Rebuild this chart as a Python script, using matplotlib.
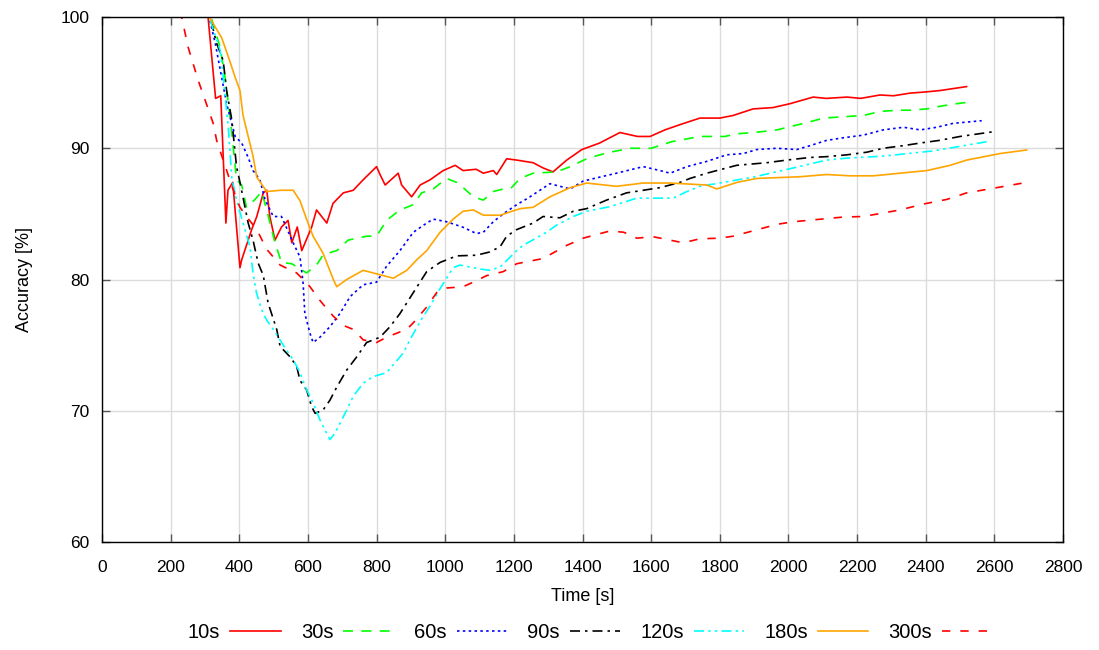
import matplotlib
matplotlib.use("Agg")
import matplotlib.pyplot as plt

# ---------------- data ----------------
labels = ["10s", "30s", "60s", "90s", "120s", "180s", "300s"]

t_10 = [0, 309, 331, 346, 361, 367, 381, 402, 407, 436, 451, 470, 480, 489, 504, 523, 542, 553, 569, 582,
        611, 625, 655, 673, 703, 732, 761, 800, 810, 825, 863, 873, 902, 927, 956, 994, 1029, 1052, 1090,
        1111, 1140, 1150, 1179, 1208, 1256, 1285, 1314, 1354, 1398, 1450, 1509, 1560, 1597, 1640, 1684,
        1742, 1800, 1839, 1897, 1955, 2005, 2072, 2110, 2171, 2210, 2267, 2306, 2354, 2403, 2442, 2519]
a_10 = [100, 100, 93.8, 94.0, 84.3, 86.8, 87.4, 80.9, 81.5, 83.8, 84.8, 86.6, 86.8, 84.8, 83.0, 84.0, 84.5,
        82.8, 84.0, 82.2, 84.0, 85.3, 84.3, 85.8, 86.6, 86.8, 87.6, 88.6, 88.0, 87.2, 88.1, 87.2, 86.3, 87.2,
        87.6, 88.3, 88.7, 88.3, 88.4, 88.1, 88.3, 88.0, 89.2, 89.1, 88.9, 88.5, 88.2, 89.1, 89.9, 90.4, 91.2,
        90.9, 90.9, 91.4, 91.8, 92.3, 92.3, 92.5, 93.0, 93.1, 93.4, 93.9, 93.8, 93.9, 93.8, 94.06, 94.0,
        94.2, 94.3, 94.4, 94.7]

t_30 = [0, 310, 320, 344, 358, 375, 392, 407, 421, 446, 465, 480, 504, 523, 553, 596, 625, 645, 684, 717,
        771, 800, 829, 868, 907, 931, 965, 1004, 1033, 1052, 1082, 1111, 1140, 1169, 1193, 1218, 1256, 1325,
        1364, 1412, 1451, 1480, 1540, 1600, 1660, 1742, 1815, 1849, 1900, 1966, 2053, 2102, 2160, 2218,
        2267, 2316, 2354, 2403, 2442, 2490, 2538]
a_30 = [100, 100, 99.8, 97.7, 95.5, 92.0, 87.6, 87.2, 85.5, 86.1, 86.7, 85.3, 82.8, 81.3, 81.2, 80.5, 81.1,
        81.9, 82.2, 83.0, 83.3, 83.3, 84.5, 85.3, 85.7, 86.6, 86.9, 87.7, 87.4, 87.0, 86.3, 86.05, 86.7,
        86.9, 87.0, 87.7, 88.1, 88.2, 88.6, 89.2, 89.5, 89.7, 90.0, 90.0, 90.5, 90.9, 90.9, 91.1, 91.2,
        91.4, 91.95, 92.3, 92.4, 92.5, 92.8, 92.9, 92.9, 93.0, 93.2, 93.4, 93.55]

t_60 = [0, 312, 330, 363, 388, 407, 426, 440, 460, 475, 499, 523, 557, 577, 586, 591, 606, 615, 635, 664,
        693, 723, 761, 800, 829, 868, 907, 946, 965, 1004, 1050, 1091, 1111, 1140, 1169, 1208, 1241, 1305,
        1364, 1402, 1450, 1499, 1577, 1626, 1655, 1704, 1762, 1820, 1869, 1907, 1966, 2024, 2063, 2111,
        2160, 2218, 2276, 2335, 2384, 2432, 2480, 2563]
a_60 = [100, 100, 98.0, 93.4, 90.9, 90.4, 89.3, 88.3, 87.6, 86.1, 84.8, 84.8, 82.8, 81.7, 79.7, 77.4, 75.9,
        75.2, 75.6, 76.4, 77.4, 78.7, 79.6, 79.8, 81.0, 82.2, 83.6, 84.3, 84.6, 84.4, 84.0, 83.5, 83.6,
        84.4, 85.0, 85.7, 86.2, 87.3, 86.9, 87.5, 87.8, 88.1, 88.6, 88.3, 88.1, 88.6, 89.0, 89.5, 89.6,
        89.9, 90.0, 89.9, 90.2, 90.6, 90.8, 91.0, 91.4, 91.6, 91.4, 91.6, 91.9, 92.1]

t_90 = [0, 315, 334, 353, 363, 378, 392, 402, 426, 440, 455, 470, 484, 509, 519, 548, 567, 577, 596, 611,
        621, 644, 664, 684, 713, 742, 771, 810, 839, 868, 907, 946, 985, 1014, 1033, 1091, 1130, 1160,
        1179, 1208, 1256, 1285, 1334, 1373, 1412, 1470, 1528, 1577, 1626, 1684, 1713, 1762, 1820, 1849,
        1937, 1995, 2063, 2111, 2170, 2228, 2276, 2335, 2384, 2440, 2500, 2597]
a_90 = [100, 100, 98.0, 96.7, 94.4, 92.2, 88.6, 87.4, 84.3, 83.0, 81.25, 80.3, 78.2, 76.2, 74.9, 74.1, 73.4,
        72.3, 71.6, 70.3, 69.8, 70.05, 70.8, 71.8, 73.1, 74.1, 75.2, 75.6, 76.4, 77.4, 79.0, 80.6, 81.3,
        81.6, 81.8, 81.85, 82.1, 82.5, 83.3, 83.8, 84.3, 84.8, 84.7, 85.2, 85.4, 86.05, 86.6, 86.8, 87.0,
        87.4, 87.7, 88.1, 88.5, 88.7, 88.9, 89.1, 89.3, 89.36, 89.5, 89.7, 90.0, 90.2, 90.4, 90.6, 90.9,
        91.26]

t_120 = [0, 312, 344, 353, 368, 378, 392, 411, 431, 440, 450, 465, 480, 499, 538, 557, 577, 596, 615, 635,
         664, 679, 713, 732, 761, 790, 829, 878, 897, 927, 956, 985, 1023, 1043, 1101, 1130, 1160, 1208,
         1227, 1295, 1325, 1373, 1412, 1480, 1558, 1606, 1664, 1704, 1742, 1800, 1897, 2014, 2111, 2170,
         2276, 2422, 2578]
a_120 = [100, 100, 97.5, 95.5, 91.6, 87.8, 86.05, 84.3, 82.5, 80.5, 79.0, 77.7, 76.9, 76.2, 74.6, 73.9,
         72.9, 71.6, 70.6, 69.3, 67.8, 68.3, 70.05, 71.1, 72.1, 72.6, 72.9, 74.4, 75.4, 76.8, 78.0, 79.3,
         80.9, 81.1, 80.8, 80.7, 80.95, 82.2, 82.6, 83.6, 84.15, 84.8, 85.2, 85.55, 86.2, 86.2, 86.2, 86.7,
         87.1, 87.35, 87.8, 88.5, 89.1, 89.25, 89.4, 89.8, 90.5]

t_180 = [0, 310, 315, 349, 373, 388, 402, 411, 426, 440, 451, 480, 520, 557, 577, 596, 615, 644, 674, 684,
         713, 761, 819, 849, 888, 917, 946, 985, 1023, 1052, 1082, 1111, 1160, 1218, 1256, 1305, 1364,
         1412, 1499, 1577, 1655, 1762, 1791, 1850, 1907, 2034, 2111, 2180, 2247, 2325, 2403, 2471, 2519,
         2617, 2694]
a_180 = [100, 100, 99.9, 98.4, 96.6, 95.4, 94.4, 92.5, 90.9, 89.4, 87.8, 86.7, 86.8, 86.8, 86.0, 84.6, 83.3,
         82.0, 80.0, 79.45, 80.0, 80.7, 80.3, 80.1, 80.7, 81.5, 82.2, 83.6, 84.6, 85.2, 85.3, 84.9, 84.9,
         85.4, 85.5, 86.3, 87.0, 87.35, 87.1, 87.35, 87.35, 87.2, 86.9, 87.4, 87.7, 87.83, 88.0, 87.9, 87.9,
         88.1, 88.3, 88.7, 89.1, 89.6, 89.87]

t_300 = [0, 232, 251, 280, 324, 334, 353, 380, 402, 421, 451, 480, 519, 567, 586, 606, 635, 674, 703, 732,
         761, 800, 829, 858, 888, 907, 946, 975, 1004, 1052, 1082, 1121, 1169, 1208, 1285, 1354, 1402,
         1480, 1520, 1558, 1606, 1693, 1742, 1800, 1839, 1966, 2014, 2160, 2218, 2325, 2393, 2461, 2519,
         2607, 2694]
a_300 = [100, 100, 97.7, 95.2, 91.9, 90.6, 89.1, 87.0, 85.5, 84.8, 83.8, 82.3, 81.1, 80.5, 80.0, 79.45,
         78.4, 77.2, 76.5, 76.2, 75.4, 75.2, 75.6, 75.9, 76.2, 76.7, 77.9, 79.0, 79.35, 79.45, 79.8, 80.3,
         80.6, 81.2, 81.6, 82.6, 83.15, 83.7, 83.6, 83.15, 83.26, 82.8, 83.1, 83.15, 83.3, 84.2, 84.4,
         84.76, 84.8, 85.3, 85.75, 86.1, 86.6, 87.0, 87.4]

x_ticks = list(range(0, 2801, 200))
y_ticks = [60, 70, 80, 90, 100]

# ---------------- styling ----------------
plt.rcParams['font.family'] = ['Liberation Sans', 'DejaVu Sans']
plt.rcParams['font.size'] = 12.5

fig = plt.figure(figsize=(10.99, 6.5), dpi=100)
ax = fig.add_axes([0.0928, 0.1662, 0.8745, 0.8076])

series = [
    (t_10, a_10, '#ff0000', '-'),
    (t_30, a_30, '#00ff00', (0, (6, 5))),
    (t_60, a_60, '#0000ff', (0, (1.5, 2))),
    (t_90, a_90, '#000000', (0, (6, 3, 1.5, 3))),
    (t_120, a_120, '#00ffff', (0, (6, 2.5, 1.5, 2.5, 1.5, 2.5))),
    (t_180, a_180, '#ffa500', '-'),
    (t_300, a_300, '#ff0000', (0, (5, 6))),
]

lw = 1.2
for (t, a, c, ls), lab in zip(series, labels):
    ax.plot(t, a, color=c, lw=lw, label=lab, linestyle=ls)

ax.set_xlim(0, 2800)
ax.set_ylim(60, 100)
ax.set_xticks(x_ticks)
ax.set_yticks(y_ticks)
ax.grid(True, color='#dcdcdc', lw=1)
ax.set_axisbelow(True)
ax.tick_params(direction='in', length=6, top=True, right=True, width=1, colors='#555555',
               labelcolor='black')
ax.tick_params(axis='x', pad=13)
ax.tick_params(axis='y', pad=9)
for s in ax.spines.values():
    s.set_color('black')
    s.set_linewidth(1)

ax.set_xlabel('Time [s]', labelpad=9, fontsize=13)
ax.set_ylabel('Accuracy [%]', labelpad=20, fontsize=13)

fig.legend(loc='center', bbox_to_anchor=(0.537, 0.027), ncol=7, frameon=False, markerfirst=False,
           handlelength=2.5, handletextpad=0.5, columnspacing=1.0, fontsize=14.5)

fig.savefig('out.png', dpi=100)
